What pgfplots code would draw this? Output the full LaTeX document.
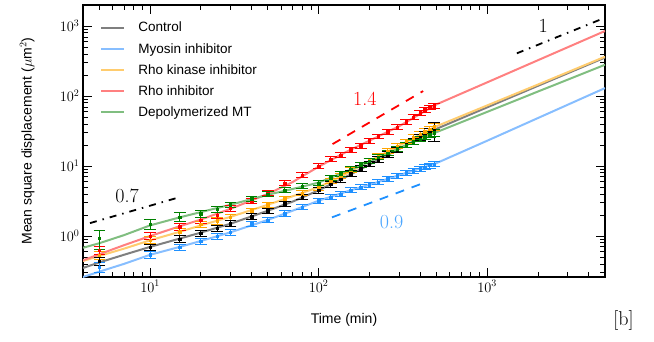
\documentclass[border=0pt]{standalone}
\usepackage{pgfplots}
\pgfplotsset{compat=1.18}
\usepackage{pgfplotstable}
\usepackage{fontspec}
\setsansfont{Liberation Sans}

\definecolor{dctl}{RGB}{0,0,0}
\definecolor{lctl}{RGB}{127,127,127}
\definecolor{dmyo}{RGB}{30,144,255}
\definecolor{lmyo}{RGB}{135,190,255}
\definecolor{drock}{RGB}{255,165,0}
\definecolor{lrock}{RGB}{255,204,110}
\definecolor{drho}{RGB}{255,0,0}
\definecolor{lrho}{RGB}{255,128,128}
\definecolor{dmt}{RGB}{0,128,0}
\definecolor{lmt}{RGB}{128,190,128}

\pgfplotstableread{
t   ctl   ectl  myo   emyo  rock  erock rho   erho  mt    emt
5   0.44  0.057 0.36  0.054 0.53  0.069 0.63  0.088 0.93  0.28
10  0.69  0.076 0.54  0.065 0.88  0.106 1.00  0.12  1.48  0.25
15  0.91  0.10  0.69  0.076 1.15  0.127 1.36  0.15  1.87  0.28
20  1.10  0.11  0.85  0.085 1.48  0.148 1.69  0.17  2.10  0.25
25  1.30  0.13  1.00  0.10  1.65  0.165 2.00  0.20  2.40  0.24
30  1.50  0.15  1.14  0.114 1.87  0.187 2.50  0.225 2.80  0.25
40  1.90  0.17  1.50  0.135 2.30  0.21  3.20  0.26  3.40  0.27
50  2.30  0.21  1.70  0.153 2.80  0.25  4.10  0.33  4.00  0.32
63  2.90  0.26  2.10  0.19  3.40  0.27  5.70  0.46  4.50  0.36
80  3.60  0.32  2.60  0.21  4.10  0.33  7.40  0.59  5.20  0.42
100 4.50  0.41  3.20  0.26  4.90  0.39  10.0  0.80  5.70  0.46
118 5.50  0.50  3.60  0.29  6.20  0.50  12.6  1.00  6.80  0.54
135 6.50  0.59  4.00  0.32  7.30  0.58  14.4  1.15  7.80  0.62
155 7.80  0.70  4.50  0.36  8.70  0.70  17.1  1.37  9.00  0.72
178 9.20  0.83  5.00  0.40  10.4  0.83  19.5  1.56  10.4  0.83
200 10.7  0.96  5.40  0.43  12.0  0.96  23.0  1.84  11.8  0.94
225 12.4  1.1   5.90  0.47  13.9  1.1   26.5  2.1   13.4  1.07
257 14.6  1.3   6.60  0.53  16.4  1.3   31.0  2.5   15.4  1.23
292 17.1  1.5   7.30  0.58  19.2  1.5   36.0  2.9   17.6  1.4
331 20.1  1.8   8.00  0.64  22.5  1.8   43.0  3.4   20.0  1.6
365 22.7  2.3   8.60  0.69  25.5  2.3   50.0  4.0   22.2  2.0
400 25.5  2.6   9.20  0.74  28.6  2.6   58.0  4.6   24.4  2.2
427 27.6  3.3   9.70  0.78  31.0  3.1   64.0  5.1   26.2  2.6
457 30.1  4.5   10.2  0.82  33.7  3.4   69.0  5.5   28.1  2.8
485 32.4  9.7   10.7  0.96  36.3  4.4   73.0  5.8   29.9  3.6
}\data

\begin{document}
\begin{tikzpicture}
\begin{axis}[
  scale only axis, width=522pt, height=272pt,
  xmode=log, ymode=log,
  xmin=4, xmax=5000, ymin=0.26, ymax=2000,
  tick align=inside,
  major tick length=9pt, minor tick length=5pt,
  axis line style={line width=1.4pt},
  every tick/.style={black, line width=0.8pt},
  ticklabel style={font=\fontsize{14}{16}\selectfont},
  xlabel={Time (min)},
  ylabel={Mean square displacement ($\mu$m$^2$)},
  label style={font=\sffamily\fontsize{14}{16}\selectfont},
  xlabel style={at={(axis description cs:0.5,-0.158)}, anchor=center},
  ylabel style={at={(axis description cs:-0.107,0.5)}, anchor=center},
  legend style={draw=none, fill=none, inner sep=0pt, at={(axis description cs:0.033,0.945)}, anchor=north west,
    font=\sffamily\fontsize{13.5}{15}\selectfont, row sep=5.8pt},
  legend cell align=left,
  legend image code/.code={\draw[#1, line width=2pt] (0pt,0pt) -- (23pt,0pt);},
]
\coordinate (O) at (rel axis cs:0,0);

% fitted curves
\addplot[lctl, line width=2pt] coordinates {(4,0.35) (5,0.42) (7,0.54) (10,0.70) (15,0.92) (20,1.12) (30,1.5) (50,2.3) (70,3.1) (100,4.5) (150,7.3) (200,10.5) (300,17.5) (500,34) (1000,69) (2000,140) (5000,355)};
\addlegendentry{\hspace{11pt}Control}
\addplot[lmyo, line width=2pt] coordinates {(4,0.26) (5,0.31) (7,0.40) (10,0.54) (15,0.70) (20,0.85) (30,1.13) (50,1.7) (70,2.3) (100,3.2) (150,4.4) (200,5.4) (300,7.4) (500,11) (1000,23) (2000,48.5) (5000,130)};
\addlegendentry{\hspace{11pt}Myosin inhibitor}
\addplot[lrock, line width=2pt] coordinates {(4,0.44) (5,0.52) (7,0.66) (10,0.87) (15,1.15) (20,1.42) (30,1.88) (50,2.8) (70,3.7) (100,5.0) (150,8.0) (200,11.8) (300,19.5) (500,37) (1000,73.5) (2000,146) (5000,365)};
\addlegendentry{\hspace{11pt}Rho kinase inhibitor}
\addplot[lrho, line width=2pt] coordinates {(4,0.45) (5,0.55) (7,0.74) (10,1.0) (15,1.38) (20,1.72) (30,2.45) (50,4.0) (70,5.9) (100,9.8) (150,16.5) (200,23) (300,37) (500,76) (1000,157) (2000,325) (5000,850)};
\addlegendentry{\hspace{11pt}Rho inhibitor}
\addplot[lmt, line width=2pt] coordinates {(4,0.68) (5,0.79) (7,1.03) (10,1.42) (15,1.85) (20,2.2) (30,2.8) (50,3.9) (70,4.7) (100,5.8) (150,8.6) (200,11.5) (300,18) (500,30.5) (1000,59.4) (2000,116) (5000,280)};
\addlegendentry{\hspace{11pt}Depolymerized MT}

% data with error bars
\pgfplotsset{databar/.style={forget plot, only marks, mark=square*, mark size=1.2pt,
  error bars/.cd, y dir=both, y explicit,
  error mark options={rotate=90, mark size=5.8pt, line width=1pt}, error bar style={line width=1pt}}}
\addplot[drock, databar] table[x=t, y=rock, y error=erock] {\data};
\addplot[dctl, databar] table[x=t, y=ctl, y error=ectl] {\data};
\addplot[dmyo, databar] table[x=t, y=myo, y error=emyo] {\data};
\addplot[drho, databar] table[x=t, y=rho, y error=erho] {\data};
\addplot[dmt, databar] table[x=t, y=mt, y error=emt] {\data};

% guide slopes
\addplot[black, line width=1.8pt, dash pattern=on 7pt off 6pt on 1.5pt off 6pt, forget plot] coordinates {(4.4,1.53) (15,3.6)};
\addplot[drho, line width=1.8pt, dash pattern=on 9pt off 8pt, forget plot] coordinates {(121,20.6) (417,118)};
\addplot[dmyo, line width=1.8pt, dash pattern=on 9pt off 8pt, forget plot] coordinates {(120,1.85) (417,5.7)};
\addplot[black, line width=1.8pt, dash pattern=on 7pt off 6pt on 1.5pt off 6pt, forget plot] coordinates {(1500,408) (4900,1290)};

\node[font=\fontsize{20}{22}\selectfont] at (axis cs:7.3,3.73) {0.7};
\node[font=\fontsize{20}{22}\selectfont, text=drho] at (axis cs:188,92) {1.4};
\node[font=\fontsize{20}{22}\selectfont, text=dmyo!80!white] at (axis cs:271,1.56) {0.9};
\node[font=\fontsize{20}{22}\selectfont] at (axis cs:2150,1000) {1};
\end{axis}
\node[font=\fontsize{20}{22}\selectfont] at ([shift={(540.5pt,-43pt)}]O) {[b]};
\pgfresetboundingbox
\path[use as bounding box] ([shift={(-83pt,-64pt)}]O) rectangle ++(654pt,341pt);
\end{tikzpicture}
\end{document}
